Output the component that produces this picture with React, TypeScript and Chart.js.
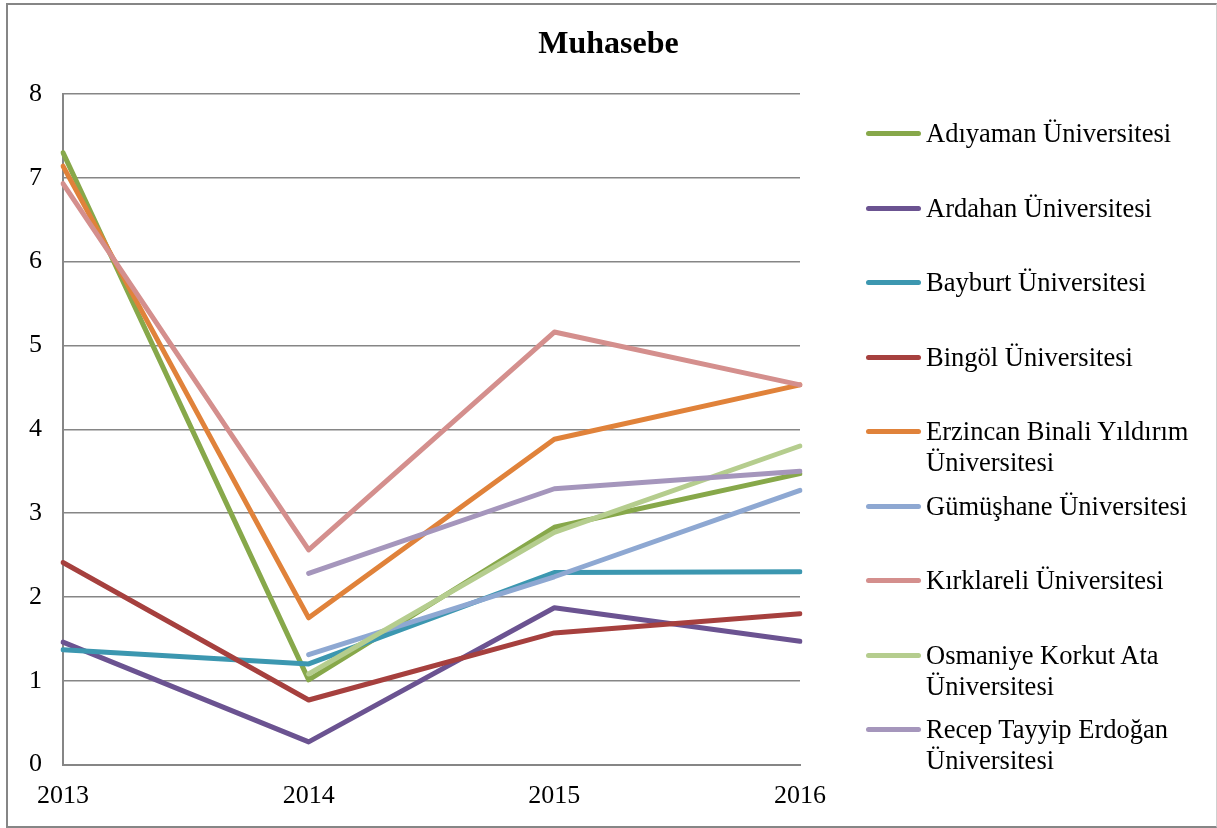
import React, { useEffect, useRef } from "react";
import { Chart, registerables } from "chart.js";

Chart.register(...registerables);

const years = ["2013", "2014", "2015", "2016"];
const seriesNames = [
  "Adıyaman Üniversitesi",
  "Ardahan Üniversitesi",
  "Bayburt Üniversitesi",
  "Bingöl Üniversitesi",
  "Erzincan Binali Yıldırım Üniversitesi",
  "Gümüşhane Üniversitesi",
  "Kırklareli Üniversitesi",
  "Osmaniye Korkut Ata Üniversitesi",
  "Recep Tayyip Erdoğan Üniversitesi",
];
const legendLines = [
  ["Adıyaman Üniversitesi"],
  ["Ardahan Üniversitesi"],
  ["Bayburt Üniversitesi"],
  ["Bingöl Üniversitesi"],
  ["Erzincan Binali Yıldırım", "Üniversitesi"],
  ["Gümüşhane Üniversitesi"],
  ["Kırklareli Üniversitesi"],
  ["Osmaniye Korkut Ata", "Üniversitesi"],
  ["Recep Tayyip Erdoğan", "Üniversitesi"],
];
const adiyaman = [7.3, 1.01, 2.83, 3.47];
const ardahan = [1.46, 0.27, 1.87, 1.47];
const bayburt = [1.37, 1.2, 2.29, 2.3];
const bingol = [2.41, 0.77, 1.57, 1.8];
const erzincan = [7.14, 1.75, 3.88, 4.53];
const gumushane = [null, 1.31, 2.24, 3.27];
const kirklareli = [6.93, 2.56, 5.16, 4.53];
const osmaniye = [null, 1.08, 2.77, 3.8];
const recep = [null, 2.28, 3.29, 3.5];
const seriesValues = [adiyaman, ardahan, bayburt, bingol, erzincan, gumushane, kirklareli, osmaniye, recep];
const colors = [
  "#87A84A",
  "#6B5391",
  "#3C97B0",
  "#A6403E",
  "#E0823A",
  "#8EA8D2",
  "#D48F8D",
  "#B5CD8E",
  "#A596BC",
];
const yTicks = [0, 1, 2, 3, 4, 5, 6, 7, 8];
const legendCenters = [133, 208, 282, 357, 431, 506, 580, 655, 729];

const FONT = "'Liberation Serif', 'Times New Roman', serif";

export default function App() {
  const ref = useRef<HTMLCanvasElement | null>(null);
  useEffect(() => {
    if (!ref.current) return;
    const n = seriesNames.length;
    const chart = new Chart(ref.current, {
      type: "line",
      data: {
        labels: years,
        datasets: seriesNames.map((name, i) => ({
          label: name,
          data: seriesValues[i],
          borderColor: colors[i],
          backgroundColor: colors[i],
          borderWidth: 5,
          pointRadius: 0,
          tension: 0,
          borderCapStyle: "round" as const,
          borderJoinStyle: "round" as const,
          spanGaps: false,
          order: n - i,
        })),
      },
      options: {
        animation: false,
        responsive: false,
        maintainAspectRatio: false,
        layout: { padding: { left: 0, right: 0, top: 0, bottom: 0 } },
        plugins: {
          legend: { display: false },
          tooltip: { enabled: false },
          title: {
            display: true,
            text: "Muhasebe",
            color: "#000",
            font: { family: FONT, size: 32, weight: "bold", lineHeight: 1.2 },
            padding: { top: 26, bottom: 29.6 },
          },
        },
        scales: {
          x: {
            type: "category",
            offset: false,
            grid: { display: false, drawTicks: false },
            border: { display: true, color: "#868686", width: 2 },
            ticks: {
              color: "#000",
              font: { family: FONT, size: 26, lineHeight: 1.2 },
              padding: 16,
              maxRotation: 0,
              autoSkip: false,
            },
            afterFit: (s: any) => {
              s.height = 63.5;
            },
          },
          y: {
            type: "linear",
            position: "left",
            min: 0,
            max: 8,
            afterBuildTicks: (s: any) => {
              s.ticks = yTicks.map((v) => ({ value: v }));
            },
            grid: { color: "#868686", lineWidth: 1.5, drawTicks: false },
            border: { display: true, color: "#868686", width: 2 },
            ticks: {
              color: "#000",
              font: { family: FONT, size: 26, lineHeight: 1.2 },
              padding: 21,
            },
            afterFit: (s: any) => {
              s.width = 63;
            },
          },
          y2: {
            type: "linear",
            position: "right",
            display: true,
            grid: { display: false, drawTicks: false },
            border: { display: false },
            ticks: { display: false },
            afterFit: (s: any) => {
              s.width = 417;
            },
          },
        },
      },
    });
    return () => chart.destroy();
  }, []);

  return (
    <div style={{ position: "absolute", left: 0, top: 0, width: 1217, height: 828, background: "#fff" }}>
      <canvas ref={ref} width={1217} height={828} style={{ position: "absolute", left: 0, top: 0 }} />
      <div
        style={{
          position: "absolute",
          left: 6,
          top: 3,
          width: 1211,
          height: 825,
          boxSizing: "border-box",
          borderLeft: "2px solid #868686",
          borderTop: "2px solid #868686",
          borderBottom: "2px solid #868686",
          borderRight: "1px solid #d0d0d0",
          pointerEvents: "none",
        }}
      />
      {legendLines.map((lines, i) => (
        <div key={i}>
          <div
            style={{
              position: "absolute",
              left: 866,
              top: legendCenters[i] - 2.5,
              width: 55,
              height: 5,
              borderRadius: 2.5,
              background: colors[i],
            }}
          />
          <div
            style={{
              position: "absolute",
              left: 926,
              top: legendCenters[i] - 15.5,
              fontFamily: FONT,
              fontSize: 26.5,
              lineHeight: "31px",
              color: "#000",
              whiteSpace: "nowrap",
            }}
          >
            {lines.map((l, j) => (
              <div key={j}>{l}</div>
            ))}
          </div>
        </div>
      ))}
    </div>
  );
}
